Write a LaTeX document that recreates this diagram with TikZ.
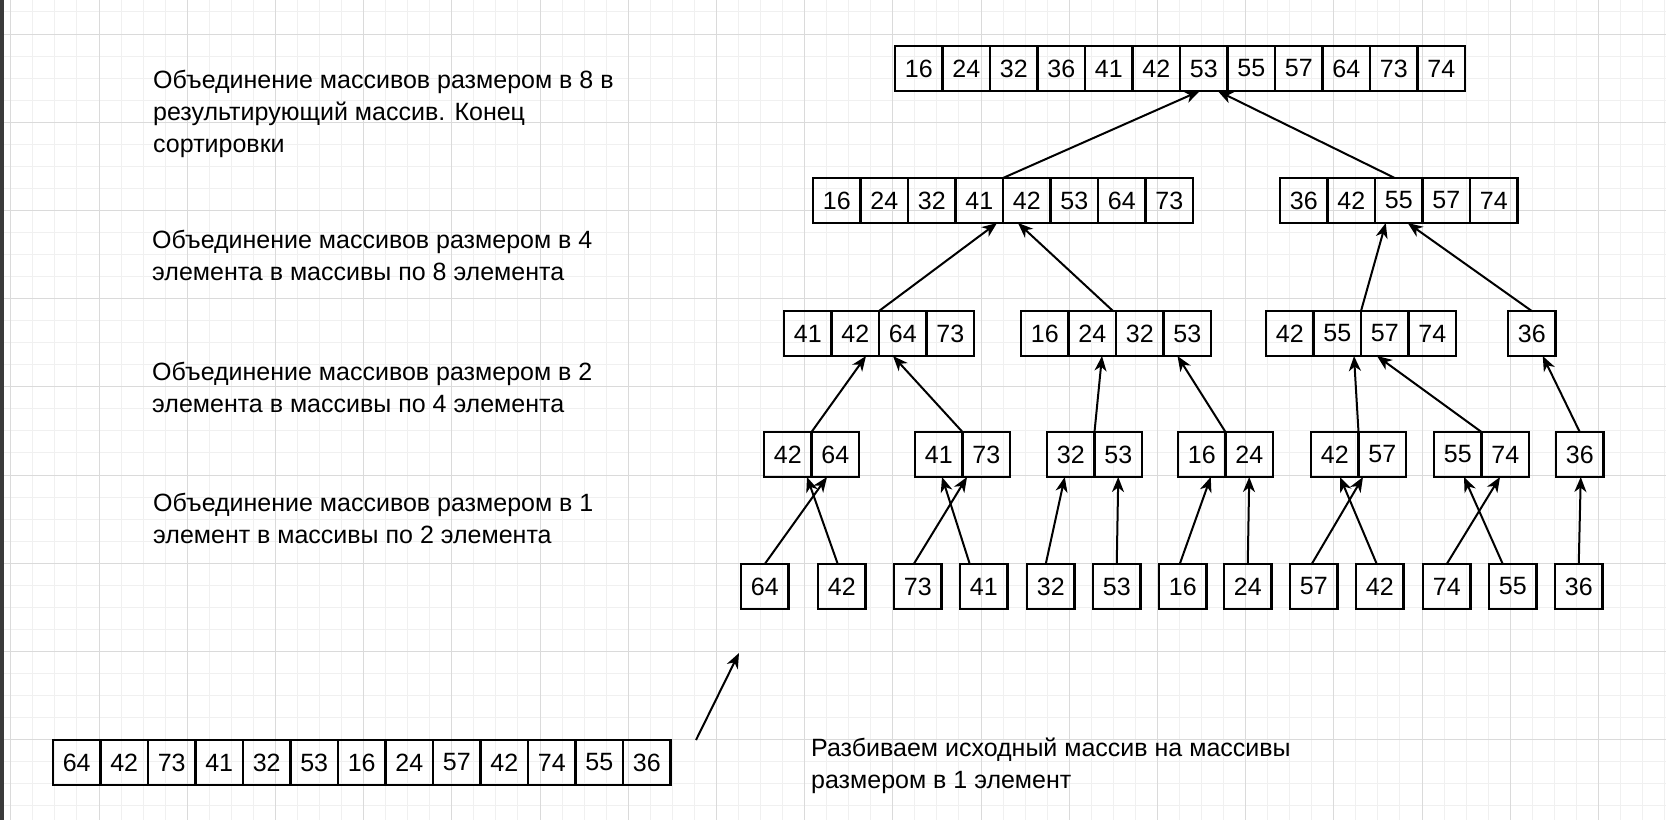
\documentclass[tikz,border=0pt]{standalone}
\usepackage{fontspec}
\setmainfont{Liberation Sans}
\usetikzlibrary{arrows.meta}
\definecolor{gridminor}{HTML}{F0F0F0}
\definecolor{gridmajor}{HTML}{DADADA}
\definecolor{sidebar}{HTML}{3A3A3A}
\tikzset{
  cell/.style={draw, line width=2.2pt, minimum width=47.5pt, minimum height=45pt,
    inner sep=0pt, outer sep=0pt, anchor=north west, font=\fontsize{25}{30}\selectfont},
  lbl/.style={anchor=north west, inner sep=0pt, align=left, font=\fontsize{25}{32}\selectfont},
  arr/.style={-{Stealth[length=15pt,width=12pt,inset=4.5pt]}, line width=2pt},
}
\begin{document}
\begin{tikzpicture}[x=1pt,y=-1pt]
\useasboundingbox (0,0) rectangle (1666,820);
\fill[white] (0,0) rectangle (1666,820);
% grid
\foreach \k in {0,...,75} \draw[gridminor, line width=1pt] ({10.8+22.05*\k},0) -- ({10.8+22.05*\k},820);
\foreach \k in {0,...,36} \draw[gridminor, line width=1pt] (0,{11.95+22.05*\k}) -- (1666,{11.95+22.05*\k});
\foreach \k in {0,...,18} \draw[gridmajor, line width=1pt] ({10.8+88.2*\k},0) -- ({10.8+88.2*\k},820);
\foreach \k in {0,...,8} \draw[gridmajor, line width=1pt] (0,{34+88.2*\k}) -- (1666,{34+88.2*\k});
\fill[sidebar] (0,0) rectangle (4,820);

% labels
\node[lbl] (lab1) at (153,68) {\rule{0pt}{20pt}Объединение массивов размером в 8 в\\результирующий массив. Конец\\сортировки};
\node[lbl] (lab2) at (152,228) {\rule{0pt}{20pt}Объединение массивов размером в 4\\элемента в массивы по 8 элемента};
\node[lbl] (lab3) at (152,360) {\rule{0pt}{20pt}Объединение массивов размером в 2\\элемента в массивы по 4 элемента};
\node[lbl] (lab4) at (153,491) {\rule{0pt}{20pt}Объединение массивов размером в 1\\элемент в массивы по 2 элемента};
\node[lbl] (lab5) at (811,736) {\rule{0pt}{20pt}Разбиваем исходный массив на массивы\\размером в 1 элемент};

% level 1 (result)
\foreach \v [count=\i] in {16,24,32,36,41,42,53,55,57,64,73,74}
  \node[cell] (T\i) at ({895+47.5*(\i-1)},46) {\v};
% level 2
\foreach \v [count=\i] in {16,24,32,41,42,53,64,73}
  \node[cell] (P\i) at ({813+47.5*(\i-1)},178) {\v};
\foreach \v [count=\i] in {36,42,55,57,74}
  \node[cell] (Q\i) at ({1280+47.5*(\i-1)},178) {\v};
% level 3
\foreach \v [count=\i] in {41,42,64,73}
  \node[cell] (A\i) at ({784+47.5*(\i-1)},311) {\v};
\foreach \v [count=\i] in {16,24,32,53}
  \node[cell] (B\i) at ({1021+47.5*(\i-1)},311) {\v};
\foreach \v [count=\i] in {42,55,57,74}
  \node[cell] (C\i) at ({1266+47.5*(\i-1)},311) {\v};
\node[cell] (D1) at (1508,311) {36};
% level 4
\foreach \v [count=\i] in {42,64}
  \node[cell] (E\i) at ({764+47.5*(\i-1)},432) {\v};
\foreach \v [count=\i] in {41,73}
  \node[cell] (F\i) at ({915+47.5*(\i-1)},432) {\v};
\foreach \v [count=\i] in {32,53}
  \node[cell] (G\i) at ({1047+47.5*(\i-1)},432) {\v};
\foreach \v [count=\i] in {16,24}
  \node[cell] (H\i) at ({1178+47.5*(\i-1)},432) {\v};
\foreach \v [count=\i] in {42,57}
  \node[cell] (I\i) at ({1311+47.5*(\i-1)},432) {\v};
\foreach \v [count=\i] in {55,74}
  \node[cell] (J\i) at ({1434+47.5*(\i-1)},432) {\v};
\node[cell] (K1) at (1556,432) {36};
% level 5 (single elements)
\foreach \v/\x [count=\i] in {64/741,42/818,73/894,41/960,32/1027,53/1093,16/1159,24/1224,57/1290,42/1356,74/1423,55/1489,36/1555}
  \node[cell] (S\i) at (\x,564) {\v};
% source array
\foreach \v [count=\i] in {64,42,73,41,32,53,16,24,57,42,74,55,36}
  \node[cell] (R\i) at ({53+47.5*(\i-1)},740) {\v};

% arrows level 2 -> 1
\draw[arr] (P4.north east) -- ([xshift=-4pt]T7.south);
\draw[arr] ([xshift=-4pt]Q3.north) -- ([xshift=14pt]T7.south);
% level 3 -> 2
\draw[arr] (A2.north east) -- ([xshift=-6pt]P4.south east);
\draw[arr] ([xshift=-3pt]B2.north east) -- ([xshift=15pt]P4.south east);
\draw[arr] (C2.north east) -- ([xshift=-13pt]Q3.south);
\draw[arr] (D1.north) -- ([xshift=9pt]Q3.south);
% level 4 -> 3
\draw[arr] (E1.north east) -- ([xshift=-13pt]A2.south east);
\draw[arr] (F1.north east) -- ([xshift=14pt]A2.south east);
\draw[arr] (G1.north east) -- ([xshift=-14pt]B2.south east);
\draw[arr] (H1.north east) -- ([xshift=14pt]B3.south east);
\draw[arr] (I1.north east) -- ([xshift=-7pt]C2.south east);
\draw[arr] (J1.north east) -- ([xshift=16pt]C2.south east);
\draw[arr] (K1.north) -- ([xshift=11pt]D1.south);
% level 5 -> 4
\draw[arr] (S1.north) -- ([xshift=15.5pt]E1.south east);
\draw[arr] ([xshift=-4pt]S2.north) -- ([xshift=-4.5pt]E1.south east);
\draw[arr] ([xshift=-4pt]S3.north) -- ([xshift=4.5pt]F1.south east);
\draw[arr] ([xshift=-14pt]S4.north) -- ([xshift=-20.5pt]F1.south east);
\draw[arr] ([xshift=-5pt]S5.north) -- ([xshift=-6pt]G1.south);
\draw[arr] (S6.north) -- (G2.south);
\draw[arr] ([xshift=-3pt]S7.north) -- ([xshift=9pt]H1.south);
\draw[arr] (S8.north) -- (H2.south);
\draw[arr] ([xshift=-2pt]S9.north) -- ([xshift=4.5pt]I1.south east);
\draw[arr] ([xshift=-3pt]S10.north) -- ([xshift=-18.5pt]I1.south east);
\draw[arr] (S11.north) -- ([xshift=18.5pt]J1.south east);
\draw[arr] ([xshift=-10pt]S12.north) -- ([xshift=-17.5pt]J1.south east);
\draw[arr] (S13.north) -- ([xshift=1pt]K1.south);
% free arrow
\coordinate (fa) at (696,740);
\coordinate (fb) at (739,653);
\draw[arr] (fa) -- (fb);
\end{tikzpicture}
\end{document}
